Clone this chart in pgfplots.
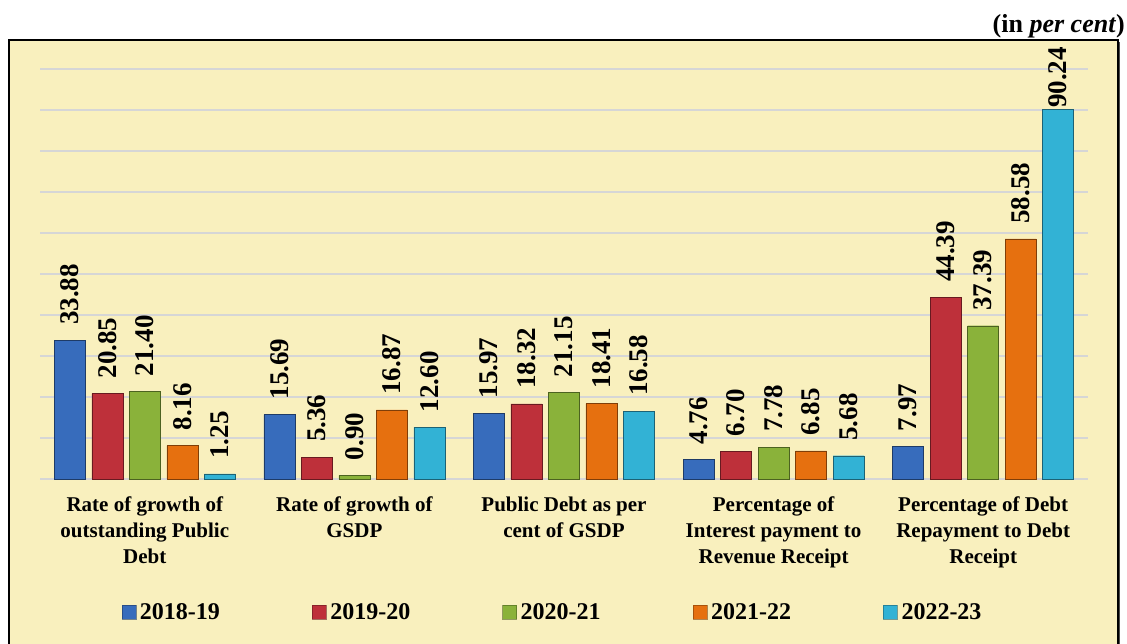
\documentclass[border=0pt]{standalone}
\usepackage{fontspec}
\setmainfont{Liberation Serif}
\usepackage{pgfplots}
\pgfplotsset{compat=1.18}
\definecolor{bgy}{RGB}{249,240,190}
\definecolor{gridc}{RGB}{214,214,214}
\definecolor{cA}{RGB}{55,108,188}
\definecolor{cB}{RGB}{190,48,58}
\definecolor{cC}{RGB}{138,178,58}
\definecolor{cD}{RGB}{230,112,15}
\definecolor{cE}{RGB}{50,178,213}
\begin{document}
\begin{tikzpicture}
\useasboundingbox (0pt,0pt) rectangle (1127pt,643pt);
\draw[line width=2pt, fill=bgy] (9pt,-3pt) rectangle (1118pt,603pt);
\draw[line width=1.5pt, black!70] (1119.5pt,-3pt) -- (1119.5pt,601pt);
\node[anchor=base east, font=\bfseries\fontsize{26}{28}\selectfont, inner sep=0pt] at (1125pt,610pt) {(in \textit{per cent})};
\begin{axis}[
  at={(40pt,164pt)}, anchor=south west,
  scale only axis, width=1048pt, height=410pt,
  ybar=6.5pt, bar width=31pt,
  xmin=-0.5, xmax=4.5, ymin=0, ymax=100,
  ytick={0,10,...,100}, yticklabels={},
  ymajorgrids, grid style={gridc, line width=1.6pt},
  axis line style={draw=none}, tick style={draw=none},
  xtick={0,1,2,3,4},
  xticklabels={{Rate of growth of\\outstanding Public\\Debt}, {Rate of growth of\\GSDP}, {Public Debt as per\\cent of GSDP}, {Percentage of\\Interest payment to\\Revenue Receipt}, {Percentage of Debt\\Repayment to Debt\\Receipt}},
  xticklabel style={font=\bfseries\fontsize{21}{26}\selectfont, align=center, anchor=north, yshift=-10pt},
  clip=false,
  nodes near coords,
  /pgf/number format/fixed, /pgf/number format/fixed zerofill, /pgf/number format/precision=2,
  /pgf/number format/assume math mode=true,
  visualization depends on={y \as \ry},
  every node near coord/.append style={rotate=90, anchor=west, font=\bfseries\fontsize{27}{28}\selectfont,
    /utils/exec={\pgfmathparse{\ry>80 ? 1 : 15}\xdef\labsep{\pgfmathresult pt}},
    inner xsep=\labsep, inner ysep=2pt, black},
  legend columns=5,
  legend style={at={(0.49,-0.324)}, anchor=center, draw=none, fill=none,
    font=\bfseries\fontsize{24}{28}\selectfont,
    /tikz/every even column/.append style={column sep=88pt},
    nodes={inner xsep=4pt, inner ysep=2pt}},
  legend image code/.code={\draw[#1, draw opacity=0.6] (0pt,-7pt) rectangle (14pt,7pt);},
]
\addplot[draw=cA!55!black, fill=cA] coordinates {(0,33.88) (1,15.69) (2,15.97) (3,4.76) (4,7.97)};
\addplot[draw=cB!55!black, fill=cB] coordinates {(0,20.85) (1,5.36) (2,18.32) (3,6.70) (4,44.39)};
\addplot[draw=cC!55!black, fill=cC] coordinates {(0,21.40) (1,0.90) (2,21.15) (3,7.78) (4,37.39)};
\addplot[draw=cD!55!black, fill=cD] coordinates {(0,8.16) (1,16.87) (2,18.41) (3,6.85) (4,58.58)};
\addplot[draw=cE!55!black, fill=cE] coordinates {(0,1.25) (1,12.60) (2,16.58) (3,5.68) (4,90.24)};
\legend{2018-19,2019-20,2020-21,2021-22,2022-23}
\end{axis}
\end{tikzpicture}
\end{document}
